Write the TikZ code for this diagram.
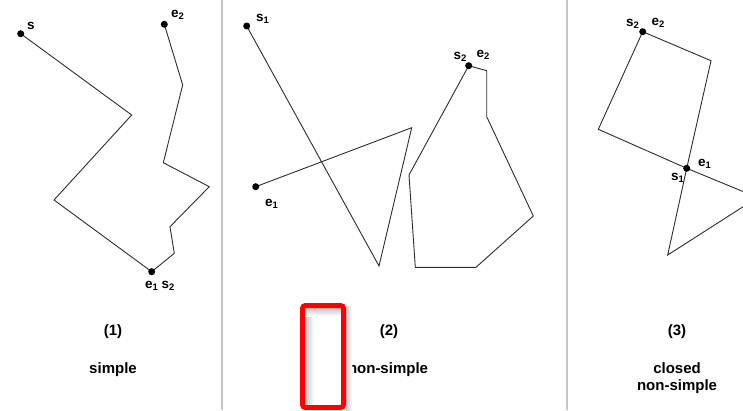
\documentclass[tikz,border=0pt]{standalone}
\usepackage{fontspec}
\setmainfont{Liberation Sans}
\usepackage{xcolor}
\definecolor{ink}{HTML}{2E2E2E}
\definecolor{rulegray}{HTML}{C6C6C6}
\definecolor{markred}{HTML}{FF0000}
\usepackage{tikz}
\usetikzlibrary{calc}

\begin{document}
\begin{tikzpicture}[x=1pt, y=-1pt,
  seg/.style={draw=ink, line width=0.9pt, line join=miter},
  pt/.style={circle, fill=black, inner sep=0pt, minimum size=7pt},
  lbl/.style={font=\fontsize{13.5}{15}\selectfont\bfseries, inner sep=0pt, anchor=base west},
  capt/.style={font=\fontsize{15}{17}\selectfont\bfseries, align=center, inner sep=0pt, anchor=base},
  divider/.style={draw=rulegray, line width=1.4pt}
]
\clip (0,0) rectangle (743,410);
\fill[white] (0,0) rectangle (743,410);

% panel dividers
\draw[divider] (222,0) -- (222,410);
\draw[divider] (567,0) -- (567,410);

% (1) simple
\coordinate (a-s) at (20.7,33.7);
\coordinate (a-1) at (131.7,115);
\coordinate (a-2) at (54,200);
\coordinate (a-m) at (151.7,271.7);
\coordinate (a-3) at (174.3,253.3);
\coordinate (a-4) at (170,226.7);
\coordinate (a-5) at (209.3,186.7);
\coordinate (a-6) at (163.3,162.7);
\coordinate (a-7) at (182.7,85);
\coordinate (a-e) at (164.3,24.3);
\draw[seg] (a-s) -- (a-1) -- (a-2) -- (a-m) -- (a-3) -- (a-4) -- (a-5) -- (a-6) -- (a-7) -- (a-e);
\node[pt] (dot-a-s) at (a-s) {};
\node[pt] (dot-a-m) at (a-m) {};
\node[pt] (dot-a-e) at (a-e) {};
\node[lbl] (lab-a-s) at (27,29) {s};
\node[lbl] (lab-a-e2) at (171,17) {e\textsubscript{2}};
\node[lbl] (lab-a-e1) at (145,288) {e\textsubscript{1}};
\node[lbl] (lab-a-s2) at (161.5,288) {s\textsubscript{2}};

% (2) non-simple
\coordinate (b-s1) at (246.7,26);
\coordinate (b-1) at (379,266);
\coordinate (b-2) at (411.7,127.7);
\coordinate (b-e1) at (255.7,186.7);
\draw[seg] (b-s1) -- (b-1) -- (b-2) -- (b-e1);
\coordinate (b-s2) at (468.7,65.7);
\coordinate (b-3) at (486.7,70.7);
\coordinate (b-4) at (486.7,116.7);
\coordinate (b-5) at (533.3,216);
\coordinate (b-6) at (476,267.3);
\coordinate (b-7) at (415.3,267.3);
\coordinate (b-8) at (409,175);
\draw[seg] (b-s2) -- (b-3) -- (b-4) -- (b-5) -- (b-6) -- (b-7) -- (b-8) -- cycle;
\node[pt] (dot-b-s1) at (b-s1) {};
\node[pt] (dot-b-e1) at (b-e1) {};
\node[pt] (dot-b-s2) at (b-s2) {};
\node[lbl] (lab-b-s1) at (256,21.5) {s\textsubscript{1}};
\node[lbl] (lab-b-e1) at (265,206) {e\textsubscript{1}};
\node[lbl] (lab-b-s2) at (453.5,59) {s\textsubscript{2}};
\node[lbl] (lab-b-e2) at (476.5,57) {e\textsubscript{2}};

% (3) closed non-simple
\coordinate (c-s2) at (642.7,31.7);
\coordinate (c-1) at (711,60.7);
\coordinate (c-m) at (686.7,168.3);
\coordinate (c-2) at (667.7,255);
\coordinate (c-3) at (757.5,197.5);
\coordinate (c-4) at (598.3,129.3);
\draw[seg] (c-s2) -- (c-1) -- (c-m) -- (c-2) -- (c-3) -- (c-m) -- (c-4) -- cycle;
\node[pt] (dot-c-s2) at (c-s2) {};
\node[pt] (dot-c-m) at (c-m) {};
\node[lbl] (lab-c-s2) at (626,26) {s\textsubscript{2}};
\node[lbl] (lab-c-e2) at (651.5,25) {e\textsubscript{2}};
\node[lbl] (lab-c-e1) at (698,166.5) {e\textsubscript{1}};
\node[lbl] (lab-c-s1) at (671,180) {s\textsubscript{1}};

% captions
\node[capt] (num-a) at (113,335) {(1)};
\node[capt] (txt-a) at (113,373) {simple};
\node[capt] (num-b) at (389,335) {(2)};
\node[capt] (txt-b) at (388,373) {non-simple};
\node[capt] (num-c) at (677,335) {(3)};
\node[capt] (txt-c) at (677,390) {closed\\non-simple};

% red marker box
\shade[left color=gray!45, right color=white] (305,308) rectangle (314,405);
\shade[top color=gray!45, bottom color=white] (305,308) rectangle (341,316);
\shade[left color=gray!40, right color=white] (346,306) rectangle (352,410);
\draw[markred, line width=5pt, rounded corners=3pt] (302.5,305.5) rectangle (343.5,407.5);
\end{tikzpicture}
\end{document}
